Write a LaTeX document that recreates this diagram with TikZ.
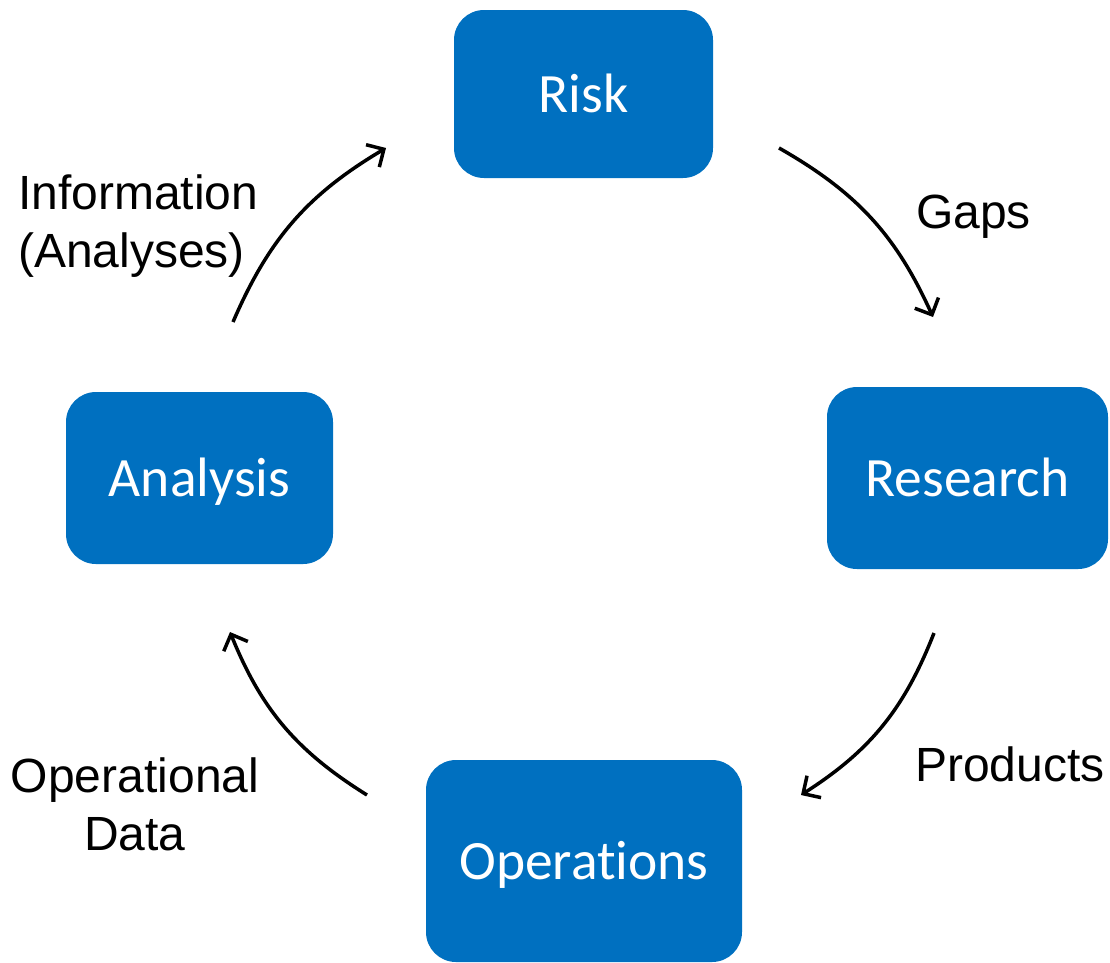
\documentclass[tikz,border=0pt]{standalone}
\usepackage{fontspec}
\setmainfont{Liberation Sans}
\newfontfamily\boxfont[Ligatures=NoCommon]{Carlito}
\usetikzlibrary{arrows.meta}
\definecolor{boxblue}{HTML}{0070C0}
\tikzset{
  stagebox/.style={fill=boxblue, draw=none, rounded corners=30pt, inner sep=0pt,
    text=white, font=\boxfont\fontsize{55.5}{66}\selectfont, text height=36pt, text depth=0pt},
  flow/.style={line width=3.5pt, -{Straight Barb[length=13pt,width=26pt,line width=3.5pt]}},
  flowlabel/.style={inner sep=0pt, font=\fontsize{48}{58}\selectfont, text=black}
}
\begin{document}
\begin{tikzpicture}[x=1pt,y=-1pt]
\path[use as bounding box] (0,0) rectangle (1110,962);
\node[stagebox, minimum width=259pt, minimum height=168pt] (risk) at (583.5,94) {Risk};
\node[stagebox, minimum width=281pt, minimum height=182pt] (research) at (967.5,478) {Research};
\node[stagebox, minimum width=267pt, minimum height=172pt] (analysis) at (199.5,478) {Analysis};
\node[stagebox, minimum width=316pt, minimum height=202pt] (operations) at (584,861) {Operations};

\coordinate (a1) at (779,148);
\coordinate (b1) at (933,317);
\coordinate (a2) at (934,633);
\coordinate (b2) at (801,795);
\coordinate (a3) at (367,795);
\coordinate (b3) at (230,632);
\coordinate (a4) at (233,322);
\coordinate (b4) at (386,148);

\draw[flow] (a1) to[bend left=18] (b1);
\draw[flow] (a2) to[bend left=18] (b2);
\draw[flow] (a3) to[bend left=18] (b3);
\draw[flow] (a4) to[bend left=18] (b4);

\node[flowlabel, anchor=base west] (gaps) at (916,228) {Gaps};
\node[flowlabel, anchor=base west] (products) at (915,781) {Products};
\node[flowlabel, anchor=north west, align=left] (info) at (18,175) {Information\\(Analyses)};
\node[flowlabel, anchor=north, align=center] (opdata) at (135,758) {Operational\\Data};
\end{tikzpicture}
\end{document}
